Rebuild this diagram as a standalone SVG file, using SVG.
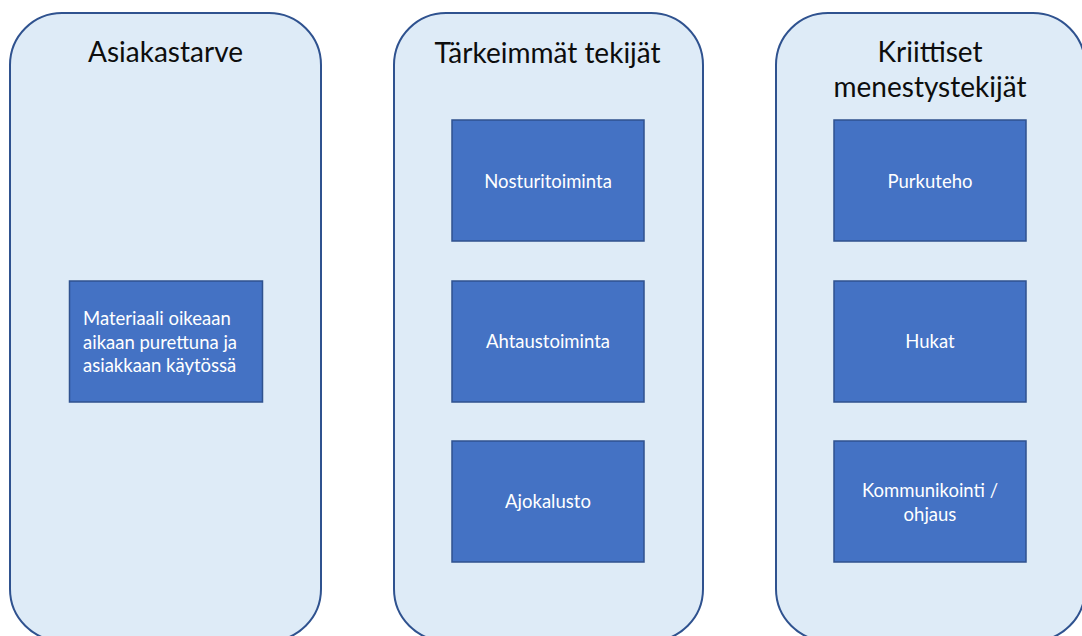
<svg xmlns="http://www.w3.org/2000/svg" width="1082" height="636" viewBox="0 0 1082 636">
  <style>
    .col { fill: #DEEBF7; stroke: #2F528F; stroke-width: 2; }
    .box { fill: #4472C4; stroke: #2F528F; stroke-width: 1.5; }
    .title { font-family: Lato, "Liberation Sans", sans-serif; font-size: 28px; fill: #0D0D0D; text-anchor: middle; }
    .lbl { font-family: Lato, "Liberation Sans", sans-serif; font-size: 18.5px; fill: #FFFFFF; text-anchor: middle; }
    .lbl-left { text-anchor: start; }
  </style>

  <rect width="1082" height="636" fill="#FFFFFF"/>

  <!-- Columns -->
  <g id="col-asiakastarve">
    <rect class="col" x="10" y="13" width="311" height="628" rx="52" ry="52"/>
    <text class="title" x="165.5" y="62">Asiakastarve</text>
  </g>
  <g id="col-tarkeimmat">
    <rect class="col" x="394" y="13" width="309" height="628" rx="52" ry="52"/>
    <text class="title" x="547.5" y="63">Tärkeimmät tekijät</text>
  </g>
  <g id="col-kriittiset">
    <rect class="col" x="776" y="13" width="309" height="628" rx="52" ry="52"/>
    <text class="title" x="930" y="62">Kriittiset</text>
    <text class="title" x="930" y="97">menestystekijät</text>
  </g>

  <!-- Customer need -->
  <g id="node-materiaali">
    <rect class="box" x="69.5" y="281" width="193" height="121"/>
    <text class="lbl lbl-left" x="83" y="325">Materiaali oikeaan</text>
    <text class="lbl lbl-left" x="83" y="349">aikaan purettuna ja</text>
    <text class="lbl lbl-left" x="83" y="372">asiakkaan käytössä</text>
  </g>

  <!-- Key factors -->
  <g id="node-nosturitoiminta">
    <rect class="box" x="452" y="120" width="192" height="121"/>
    <text class="lbl" x="548" y="188">Nosturitoiminta</text>
  </g>
  <g id="node-ahtaustoiminta">
    <rect class="box" x="452" y="281" width="192" height="121"/>
    <text class="lbl" x="548" y="348">Ahtaustoiminta</text>
  </g>
  <g id="node-ajokalusto">
    <rect class="box" x="452" y="441" width="192" height="121"/>
    <text class="lbl" x="548" y="508">Ajokalusto</text>
  </g>

  <!-- Critical success factors -->
  <g id="node-purkuteho">
    <rect class="box" x="834" y="120" width="192" height="121"/>
    <text class="lbl" x="930" y="188">Purkuteho</text>
  </g>
  <g id="node-hukat">
    <rect class="box" x="834" y="281" width="192" height="121"/>
    <text class="lbl" x="930" y="348">Hukat</text>
  </g>
  <g id="node-kommunikointi">
    <rect class="box" x="834" y="441" width="192" height="121"/>
    <text class="lbl" x="930" y="497">Kommunikointi /</text>
    <text class="lbl" x="930" y="521">ohjaus</text>
  </g>

  <!-- No connectors in this diagram -->
  <g id="connectors"/>
</svg>
